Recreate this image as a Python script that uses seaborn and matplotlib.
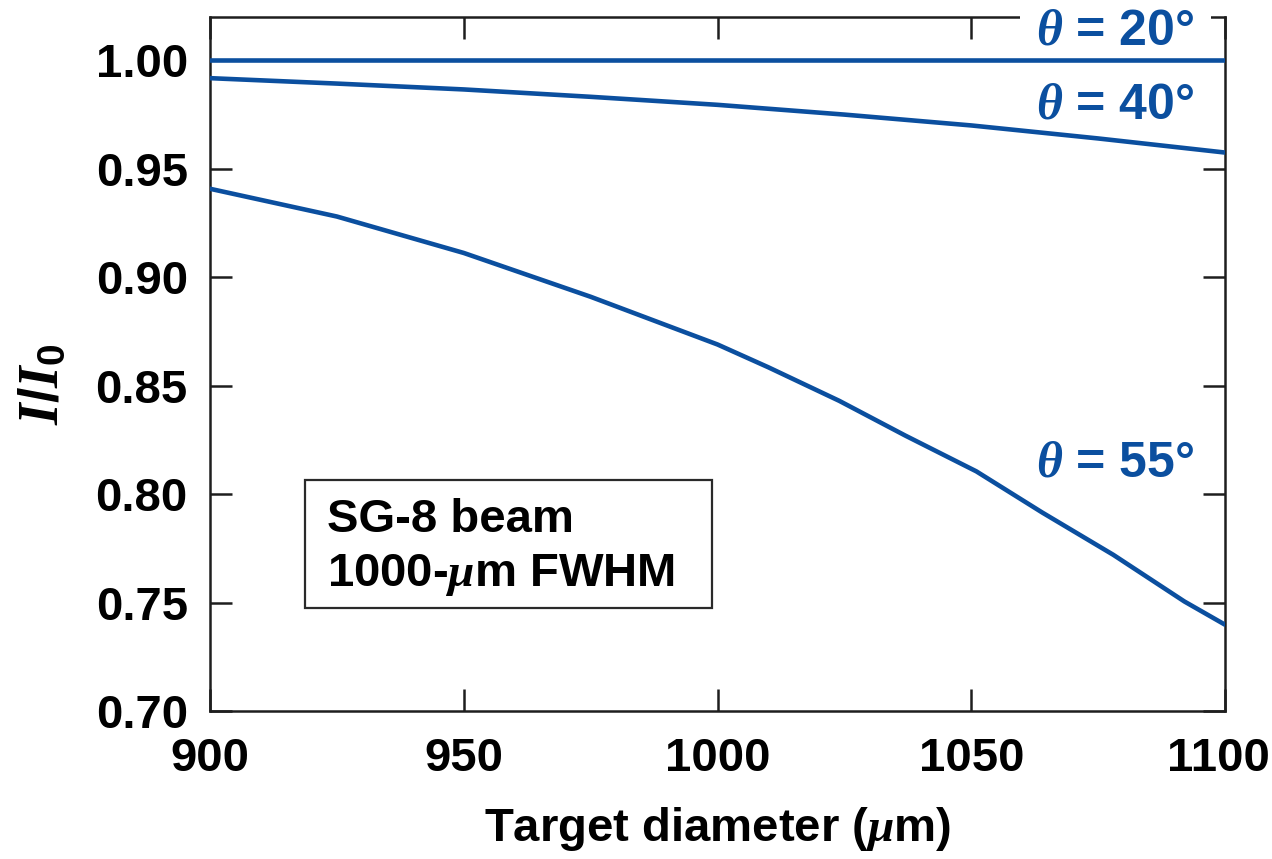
import numpy as np
import pandas as pd
import matplotlib
matplotlib.use("Agg")
import matplotlib.pyplot as plt
import matplotlib.transforms as mtransforms
from matplotlib.patches import Rectangle
import seaborn as sns

# ---- data ----
diameter_20 = [900, 950, 1000, 1050, 1100]
theta20 = [1.000, 1.000, 1.000, 1.000, 1.000]

diameter_40 = [900, 925, 950, 975, 1000, 1025, 1050, 1075, 1100]
theta40 = [0.9918, 0.9893, 0.9866, 0.9832, 0.9795, 0.9750, 0.9700, 0.9640, 0.9575]

diameter_55 = [900, 925, 950, 975, 1000, 1010, 1024, 1037, 1051, 1064, 1078, 1092, 1100]
theta55 = [0.9408, 0.928, 0.9112, 0.891, 0.869, 0.8585, 0.843, 0.827, 0.8105,
           0.7915, 0.772, 0.7505, 0.7398]

series_names = ["20", "40", "55"]
x_ticks = [900, 950, 1000, 1050, 1100]
y_ticks = [0.70, 0.75, 0.80, 0.85, 0.90, 0.95, 1.00]
box_lines = ["SG-8 beam", r"1000-$\mu$m FWHM"]

BLUE = "#0B4F9F"
DARK = "#1E1E1E"

sns.set_theme(style="ticks")
plt.rcParams["font.family"] = ["Liberation Sans", "DejaVu Sans"]
plt.rcParams["font.weight"] = "bold"
plt.rcParams["mathtext.fontset"] = "custom"
plt.rcParams["mathtext.it"] = "Liberation Serif:italic:bold"
plt.rcParams["mathtext.rm"] = "Liberation Sans:bold"
plt.rcParams["mathtext.bf"] = "Liberation Sans:bold"

FS = 34

df = pd.concat([
    pd.DataFrame({"diameter": diameter_20, "ratio": theta20, "theta": series_names[0]}),
    pd.DataFrame({"diameter": diameter_40, "ratio": theta40, "theta": series_names[1]}),
    pd.DataFrame({"diameter": diameter_55, "ratio": theta55, "theta": series_names[2]}),
], ignore_index=True)

fig = plt.figure(figsize=(12.72, 8.59), dpi=100)
ax = fig.add_axes([210 / 1272, 1 - 711 / 859, (1225 - 210) / 1272, (711 - 17) / 859])

sns.lineplot(data=df, x="diameter", y="ratio", units="theta", estimator=None,
             color=BLUE, linewidth=3.3, ax=ax, legend=False, zorder=5)

ax.set_xlim(900, 1100)
ax.set_ylim(0.70, 1.02)
ax.set_xticks(x_ticks)
ax.set_xticklabels([str(v) for v in x_ticks])
ax.set_yticks(y_ticks)
ax.set_yticklabels([f"{v:.2f}" for v in y_ticks])

for s in ax.spines.values():
    s.set_visible(True)
    s.set_color(DARK)
    s.set_linewidth(1.8)

ax.tick_params(axis="both", which="major", direction="in", length=15.5, width=1.8,
               color=DARK, labelsize=FS, top=True, right=True, labelcolor="black")
ax.tick_params(axis="x", pad=19)
ax.tick_params(axis="y", pad=16)
for lab in ax.get_xticklabels() + ax.get_yticklabels():
    lab.set_fontweight("bold")

# last x tick label nudged left so it stays inside the figure (as in the reference)
last = ax.get_xticklabels()[-1]
last.set_transform(last.get_transform() +
                   mtransforms.ScaledTranslation(-7 / 100, 0, fig.dpi_scale_trans))

ax.set_xlabel(r"Target diameter ($\mu$m)", fontsize=FS, fontweight="bold",
              color="black", labelpad=17)
ax.set_ylabel(r"$I/I_{\mathrm{0}}$", fontsize=40, color="black", labelpad=18)
ax.yaxis.label.set_y(0.47)

# curve labels
label_x = 1094
ax.text(label_x, 1.0071, r"$\theta$ = 20°", color=BLUE, fontsize=36, fontweight="bold",
        ha="right", va="baseline", zorder=4,
        bbox=dict(facecolor="white", edgecolor="none", pad=12))
ax.text(label_x, 0.9730, r"$\theta$ = 40°", color=BLUE, fontsize=36, fontweight="bold",
        ha="right", va="baseline", zorder=4)
ax.text(label_x, 0.8079, r"$\theta$ = 55°", color=BLUE, fontsize=36, fontweight="bold",
        ha="right", va="baseline", zorder=4)

# annotation box
ax.add_patch(Rectangle((918.7, 0.7475), 998.9 - 918.7, 0.8065 - 0.7475,
                       fill=False, edgecolor="#2A2A2A", linewidth=1.6, zorder=4))
ax.text(923.1, 0.7825, box_lines[0], fontsize=FS, fontweight="bold", color="black",
        ha="left", va="baseline")
ax.text(923.1, 0.7576, box_lines[1], fontsize=FS, fontweight="bold", color="black",
        ha="left", va="baseline")

fig.savefig("out.png", dpi=100, facecolor="white")
